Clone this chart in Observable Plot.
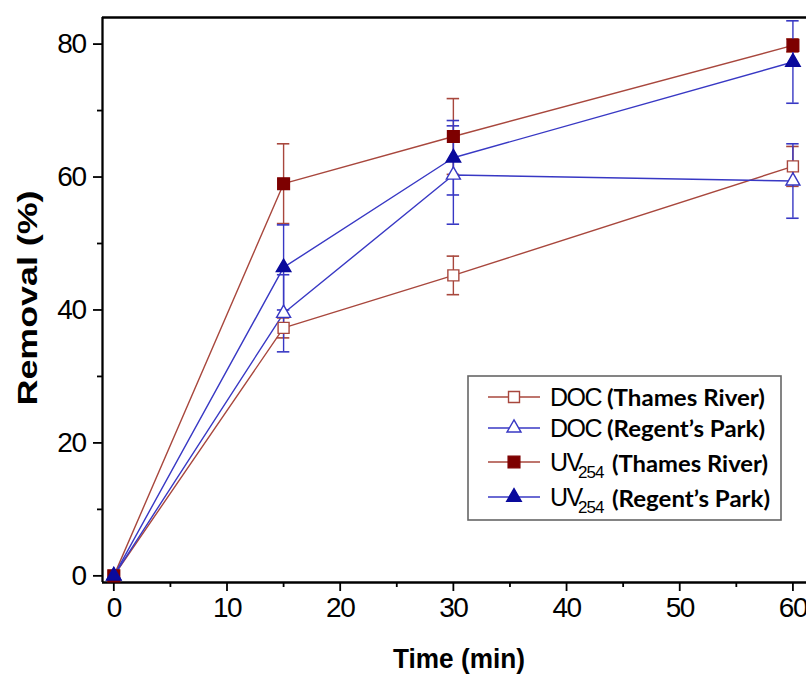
<!DOCTYPE html>
<html>
<head>
<meta charset="utf-8">
<script src="https://cdn.jsdelivr.net/npm/d3@7"></script>
<script src="https://cdn.jsdelivr.net/npm/@observablehq/plot@0.6"></script>
<style>
  html, body { margin: 0; padding: 0; background: #fff; overflow: hidden; }
  #chart svg { display: block; }
  #chart svg g[aria-label^="y-axis tick label"] text,
  #chart svg g[aria-label^="x-axis tick label"] text { letter-spacing: -1.5px; }
</style>
</head>
<body>
<div id="chart"></div>
<script>
// ---- data ----
const times = [0, 15, 30, 60];

const docThames    = [0, 37.3, 45.2, 61.6];
const docThamesErr = [0, 1.5, 2.9, 3.0];

const docRegent    = [0, 39.5, 60.3, 59.4];
const docRegentErr = [0, 5.8, 7.4, 5.6];

const uvThames     = [0, 59.0, 66.1, 79.8];
const uvThamesErr  = [0, 6.0, 5.7, 1.0];

const uvRegent     = [0, 46.4, 62.9, 77.3];
const uvRegentErr  = [0, 6.4, 5.6, 6.2];

const seriesMain   = ["DOC", "DOC", "UV", "UV"];
const seriesSub    = ["", "", "254", "254"];
const seriesSite   = ["(Thames River)", "(Regent\u2019s Park)", "(Thames River)", "(Regent\u2019s Park)"];

const yTicks  = [0, 20, 40, 60, 80];
const yMinor  = [10, 30, 50, 70];
const xTicks  = [0, 10, 20, 30, 40, 50, 60];
const xMinor  = [5, 15, 25, 35, 45, 55];

// ---- styling ----
const brown = "#a8473d";
const blue = "#3838c4";
const series = [
  {vals: docThames, errs: docThamesErr, stroke: brown, fill: "white", symbol: "square", r: 6.2},
  {vals: docRegent, errs: docRegentErr, stroke: blue, fill: "white", symbol: "triangle", r: 5.2},
  {vals: uvThames, errs: uvThamesErr, stroke: brown, fill: "#7d0000", symbol: "square", r: 6.6},
  {vals: uvRegent, errs: uvRegentErr, stroke: blue, fill: "#0a0a9c", symbol: "triangle", r: 5.4}
];

const rowsOf = s => times.map((t, i) => ({t, v: s.vals[i], e: s.errs[i]}));
const capHalf = 0.55;

const marks = [];
// axes
marks.push(Plot.axisY({ticks: yTicks, tickSize: 9, tickPadding: 8, label: null, fontSize: 28, strokeWidth: 1.8, tickFormat: d => d}));
marks.push(Plot.axisY({ticks: yMinor, tickSize: 5, label: null, strokeWidth: 1.8, tickFormat: () => ""}));
marks.push(Plot.axisX({ticks: xTicks, tickSize: 9, tickPadding: 6, label: null, fontSize: 28, strokeWidth: 1.8, tickFormat: d => d}));
marks.push(Plot.axisX({ticks: xMinor, tickSize: 5, label: null, strokeWidth: 1.8, tickFormat: () => ""}));
marks.push(Plot.ruleX([-1], {stroke: "#000", strokeWidth: 2.3}));
marks.push(Plot.ruleY([-1], {stroke: "#000", strokeWidth: 2.3}));
marks.push(Plot.ruleY([84], {stroke: "#000", strokeWidth: 2.3}));

// lines
for (const s of series) {
  marks.push(Plot.line(rowsOf(s), {x: "t", y: "v", stroke: s.stroke, strokeWidth: 1.4}));
}
// error bars
for (const s of series) {
  const r = rowsOf(s).filter(d => d.e > 0);
  marks.push(Plot.ruleX(r, {x: "t", y1: d => d.v - d.e, y2: d => d.v + d.e, stroke: s.stroke, strokeWidth: 1.4}));
  marks.push(Plot.ruleY(r, {y: d => d.v + d.e, x1: d => d.t - capHalf, x2: d => d.t + capHalf, stroke: s.stroke, strokeWidth: 1.6}));
  marks.push(Plot.ruleY(r, {y: d => d.v - d.e, x1: d => d.t - capHalf, x2: d => d.t + capHalf, stroke: s.stroke, strokeWidth: 1.6}));
}
// markers
for (const s of series) {
  marks.push(Plot.dot(rowsOf(s), {x: "t", y: "v", symbol: s.symbol, r: s.r, fill: s.fill, stroke: s.fill === "white" ? s.stroke : s.fill, strokeWidth: 1.4}));
}

const chart = Plot.plot({
  width: 806,
  height: 675,
  marginLeft: 102,
  marginRight: 0,
  marginTop: 17,
  marginBottom: 93,
  x: {domain: [-1, 61.2]},
  y: {domain: [-1, 84]},
  style: {fontFamily: "'Liberation Sans', Arial, sans-serif", color: "#000", background: "#fff"},
  marks
});
document.getElementById("chart").appendChild(chart);

// ---- axis titles and legend ----
const svg = d3.select(chart);
svg.append("text")
  .attr("x", 459).attr("y", 668)
  .attr("text-anchor", "middle")
  .attr("font-family", "'Liberation Sans', Arial, sans-serif")
  .attr("font-weight", "bold").attr("font-size", 28)
  .attr("textLength", 132).attr("lengthAdjust", "spacingAndGlyphs")
  .text("Time (min)");
svg.append("text")
  .attr("transform", "translate(37,298) rotate(-90)")
  .attr("text-anchor", "middle")
  .attr("font-family", "'Liberation Sans', Arial, sans-serif")
  .attr("font-weight", "bold").attr("font-size", 28)
  .attr("textLength", 215).attr("lengthAdjust", "spacingAndGlyphs")
  .text("Removal (%)");

const lg = svg.append("g").attr("text-anchor", "start");
lg.append("rect").attr("x", 468).attr("y", 376).attr("width", 313).attr("height", 144)
  .attr("fill", "#fff").attr("stroke", "#666").attr("stroke-width", 1.6);
const rowY = [397, 428, 462, 497];
series.forEach((s, i) => {
  const y = rowY[i];
  lg.append("line").attr("x1", 488).attr("x2", 540).attr("y1", y).attr("y2", y)
    .attr("stroke", s.stroke).attr("stroke-width", 1.4);
  const sym = s.symbol === "square" ? d3.symbolSquare : d3.symbolTriangle;
  lg.append("path").attr("transform", `translate(514,${y})`)
    .attr("d", d3.symbol(sym, Math.PI * s.r * s.r)())
    .attr("fill", s.fill).attr("stroke", s.fill === "white" ? s.stroke : s.fill).attr("stroke-width", 1.4);
  lg.append("text").attr("x", 550).attr("y", y + 9)
    .attr("text-anchor", "start")
    .attr("font-family", "'Liberation Sans', Arial, sans-serif").attr("font-size", 25)
    .attr("letter-spacing", "-1.5px")
    .text(seriesMain[i]);
  let siteX = 607;
  if (seriesSub[i]) {
    lg.append("text").attr("x", 578).attr("y", y + 16)
      .attr("text-anchor", "start")
      .attr("font-family", "'Liberation Sans', Arial, sans-serif").attr("font-size", 17)
      .attr("letter-spacing", "-1px")
      .text(seriesSub[i]);
    siteX = 612;
  }
  const ends = [765, 765, 768, 770];
  lg.append("text").attr("x", siteX).attr("y", y + (seriesSub[i] ? 10 : 9))
    .attr("text-anchor", "start")
    .attr("font-family", "Lato, 'Open Sans', sans-serif").attr("font-weight", "bold").attr("font-size", 23)
    .attr("textLength", ends[i] - siteX).attr("lengthAdjust", "spacingAndGlyphs")
    .text(seriesSite[i]);
});
</script>
</body>
</html>
